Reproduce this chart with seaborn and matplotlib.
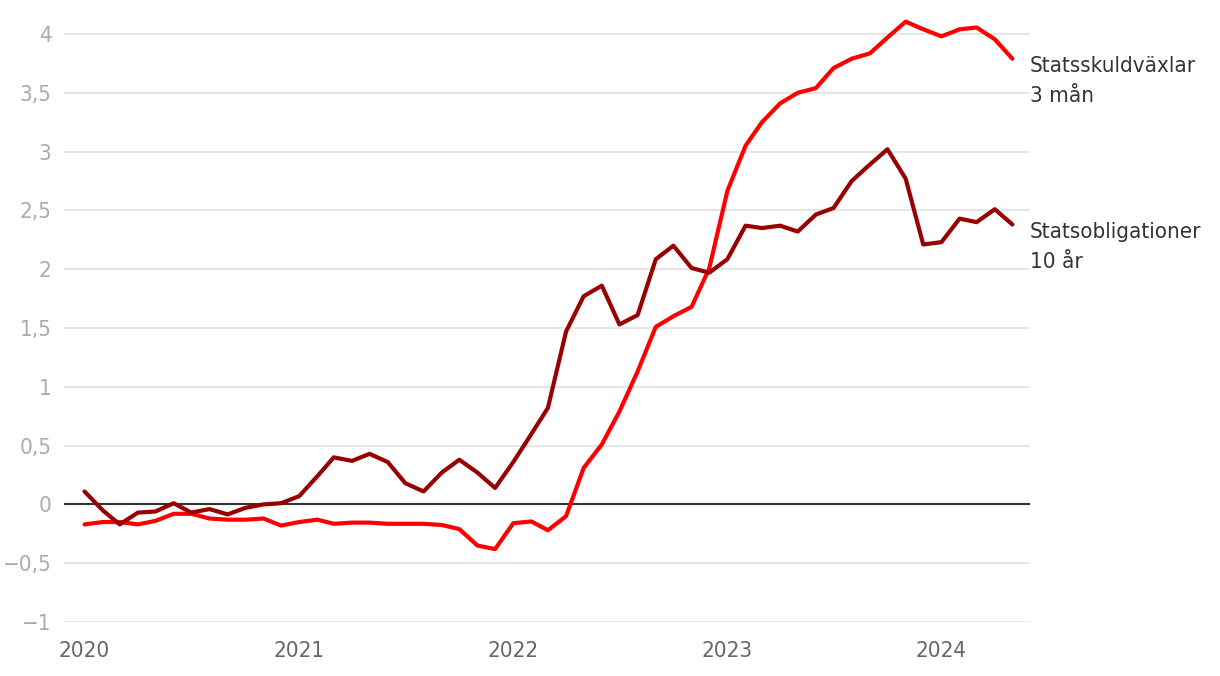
import numpy as np
import pandas as pd
import matplotlib
matplotlib.use("Agg")
import matplotlib.pyplot as plt
import matplotlib.dates as mdates
import matplotlib.transforms as mtransforms
from matplotlib import font_manager
from matplotlib.ticker import FuncFormatter, FixedLocator
import seaborn as sns

# ---- data (monthly, Jan 2020 - May 2024) ----
start_month = "2020-01-01"
n_months = 53
bill_3m = [-0.17, -0.15, -0.15, -0.17, -0.14, -0.08, -0.08, -0.12, -0.13, -0.13, -0.12, -0.18,
           -0.15, -0.13, -0.165, -0.155, -0.155, -0.165, -0.165, -0.165, -0.175, -0.21, -0.35, -0.38,
           -0.16, -0.145, -0.22, -0.10, 0.31, 0.51, 0.79, 1.13, 1.51, 1.60, 1.68, 2.005,
           2.665, 3.05, 3.25, 3.41, 3.50, 3.54, 3.71, 3.79, 3.835, 3.97, 4.105, 4.04,
           3.98, 4.04, 4.055, 3.955, 3.79]
bond_10y = [0.11, -0.05, -0.17, -0.07, -0.06, 0.01, -0.07, -0.04, -0.085, -0.03, 0.00, 0.01,
            0.07, 0.24, 0.40, 0.37, 0.43, 0.36, 0.18, 0.11, 0.27, 0.38, 0.27, 0.14,
            0.36, 0.60, 0.82, 1.47, 1.77, 1.86, 1.53, 1.61, 2.085, 2.20, 2.01, 1.97,
            2.085, 2.37, 2.35, 2.37, 2.32, 2.465, 2.52, 2.75, 2.89, 3.02, 2.77, 2.21,
            2.23, 2.43, 2.40, 2.51, 2.38]
series_names = ["Statsskuldväxlar\n3 mån", "Statsobligationer\n10 år"]
label_y = [3.81, 2.40]
y_ticks = [-1, -0.5, 0, 0.5, 1, 1.5, 2, 2.5, 3, 3.5, 4]
x_tick_years = [2020, 2021, 2022, 2023, 2024]

dates = pd.date_range(start_month, periods=n_months, freq="MS")
df = pd.DataFrame({"date": dates, "bill": bill_3m, "bond": bond_10y})

sns.set_style("white")

# pick a condensed font if one is installed
names = {f.name for f in font_manager.fontManager.ttflist}
if "Liberation Sans Narrow" in names:
    plt.rcParams["font.family"] = ["Liberation Sans Narrow", "DejaVu Sans"]
    fs = 17
elif any("DejaVuSansCondensed" in f.fname for f in font_manager.fontManager.ttflist):
    plt.rcParams["font.family"] = ["DejaVu Sans"]
    plt.rcParams["font.stretch"] = "condensed"
    fs = 16
else:
    plt.rcParams["font.family"] = ["Roboto", "DejaVu Sans"]
    plt.rcParams["font.weight"] = "light"
    fs = 16

fig = plt.figure(figsize=(12.2, 6.76), dpi=100)
ax = fig.add_axes([64 / 1220, 54 / 676, 966 / 1220, (676 - 54 - 4.6) / 676])

red = "#ff0000"
dark = "#990000"
sns.lineplot(data=df, x="date", y="bill", ax=ax, color=red, lw=3.0, zorder=4)
sns.lineplot(data=df, x="date", y="bond", ax=ax, color=dark, lw=3.0, zorder=5)

ax.set_ylim(-1.0, 4.25)
ax.set_xlim(pd.Timestamp("2019-11-27"), pd.Timestamp("2024-05-31"))

ax.yaxis.set_major_locator(FixedLocator(y_ticks))
def yfmt(v, pos):
    s = ("%g" % v).replace(".", ",")
    return s.replace("-", "\u2212")
ax.yaxis.set_major_formatter(FuncFormatter(yfmt))
ax.xaxis.set_major_locator(FixedLocator([mdates.date2num(pd.Timestamp(f"{y}-01-01")) for y in x_tick_years]))
ax.xaxis.set_major_formatter(mdates.DateFormatter("%Y"))

ax.grid(axis="y", color="#e6e6e6", lw=1.5, zorder=0)
ax.grid(axis="x", visible=False)
ax.axhline(0, color="#333333", lw=1.5, zorder=3)
for s in ax.spines.values():
    s.set_visible(False)
ax.tick_params(axis="y", length=0, pad=9, labelsize=fs, labelcolor="#aaaaaa")
ax.tick_params(axis="x", length=0, pad=14, labelsize=fs, labelcolor="#666666")
ax.set_xlabel("")
ax.set_ylabel("")

trans = mtransforms.blended_transform_factory(ax.transAxes, ax.transData)
for name, yv in zip(series_names, label_y):
    ax.text(1.0, yv, name, transform=trans, ha="left", va="top", fontsize=fs,
            color="#333333", linespacing=1.62, clip_on=False)

fig.savefig("out.png", dpi=100)
